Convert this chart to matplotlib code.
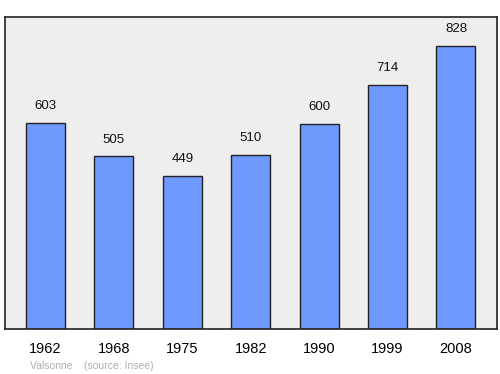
import matplotlib
matplotlib.use("Agg")
import matplotlib.pyplot as plt

plt.rcParams["font.family"] = ["Liberation Sans", "DejaVu Sans"]

years = ["1962", "1968", "1975", "1982", "1990", "1999", "2008"]
population = [603, 505, 449, 510, 600, 714, 828]

fig = plt.figure(figsize=(5, 3.74), dpi=100)
ax = fig.add_axes([0.01, 0.1203, 0.984, 0.834])
ax.set_facecolor("#eeeeee")

x = range(len(years))
ax.bar(x, population, width=0.57, color="#7099ff", edgecolor="#222222", linewidth=1)

for i, v in enumerate(population):
    ax.text(i, v + 32, str(v), ha="center", va="bottom", fontsize=9.5, color="#111111")

ax.set_xlim(-0.592, 6.6)
ax.set_ylim(0, 913)
ax.set_yticks([])
ax.set_xticks(list(x))
ax.set_xticklabels(years, fontsize=10.5)
ax.tick_params(axis="x", length=0, pad=9)
for s in ax.spines.values():
    s.set_color("#222222")
    s.set_linewidth(1.2)

fig.text(0.06, 0.013, "Valsonne    (source: Insee)", fontsize=7.5, color="#b0b0b0")

fig.savefig("out.png", dpi=100)
